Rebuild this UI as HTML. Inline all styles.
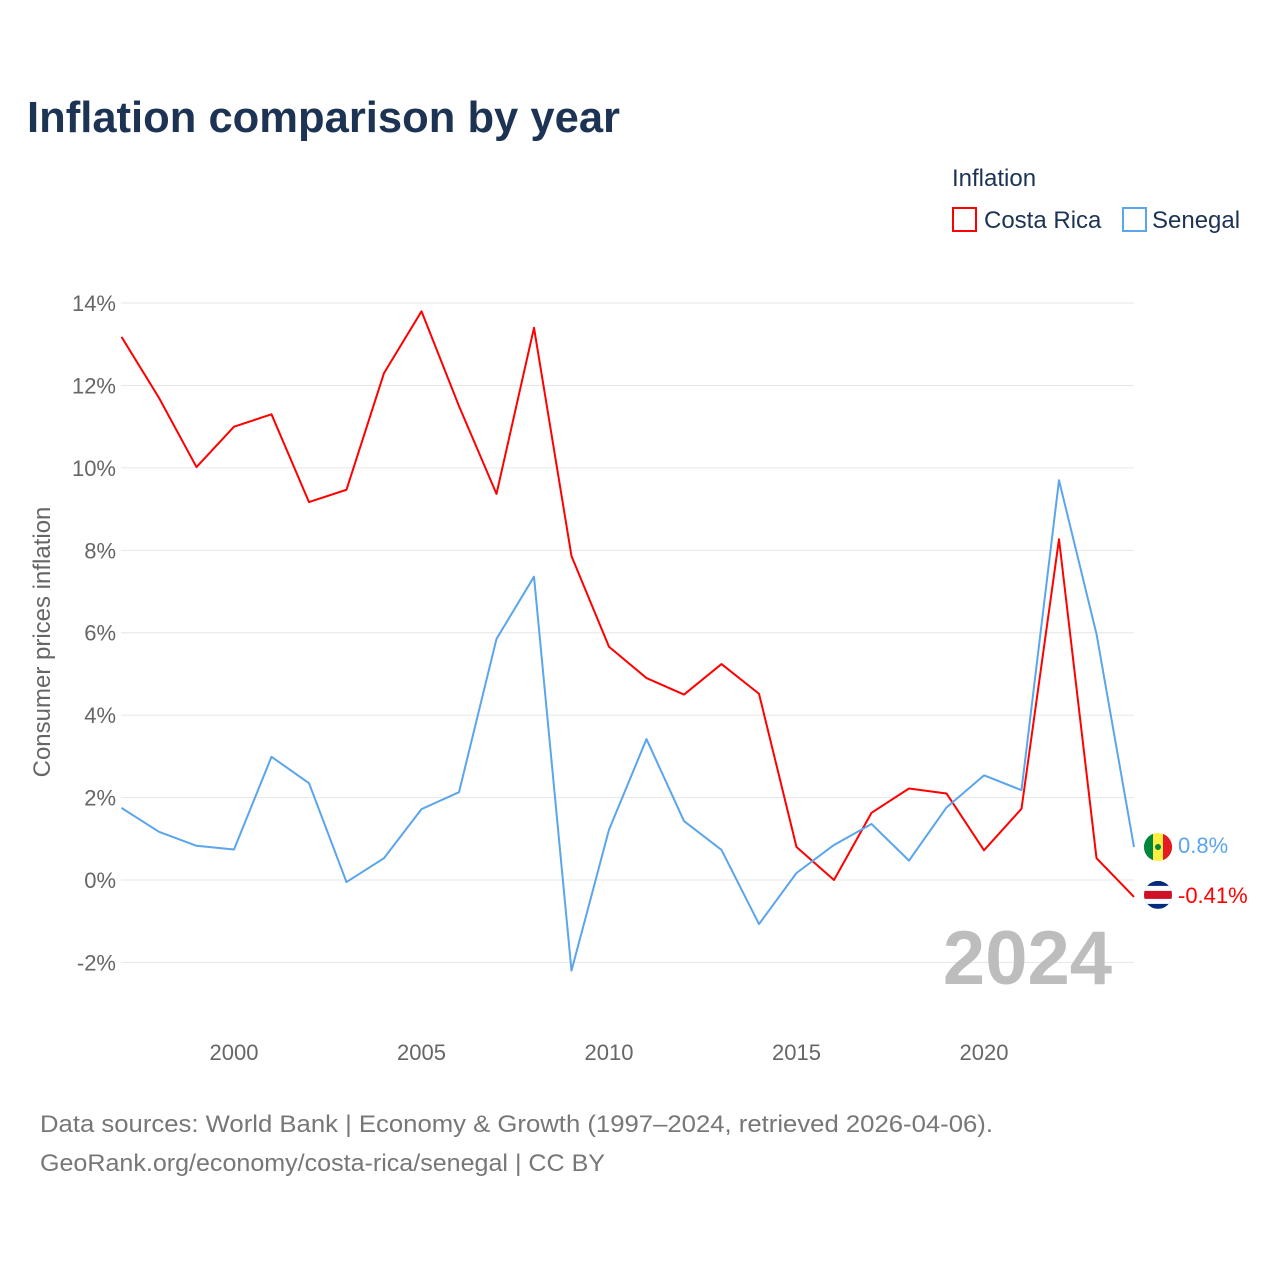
<!DOCTYPE html>
<html><head><meta charset="utf-8">
<style>
body{margin:0;background:#fff;font-family:"Liberation Sans",sans-serif;}
svg text{font-family:"Liberation Sans",sans-serif;}
</style></head>
<body>
<svg id="chart" width="1280" height="1280" xmlns="http://www.w3.org/2000/svg">
<rect width="1280" height="1280" fill="#fff"/>
<text x="27" y="132" font-size="44" font-weight="bold" fill="#1d3354" textLength="593" lengthAdjust="spacingAndGlyphs">Inflation comparison by year</text>
<g>
<text x="952" y="186" font-size="24" fill="#1d3354">Inflation</text>
<g><rect x="953" y="208" width="23" height="23" fill="none" stroke="#ff0000" stroke-width="2"/><text x="984" y="228" font-size="24" fill="#1d3354">Costa Rica</text></g>
<g><rect x="1123" y="208" width="23" height="23" fill="none" stroke="#5aa5eb" stroke-width="2"/><text x="1152" y="228" font-size="24" fill="#1d3354">Senegal</text></g>
</g>
<text transform="translate(50,642) rotate(-90)" text-anchor="middle" font-size="24" fill="#666">Consumer prices inflation</text>
<g id="grid"></g><g id="yticks"></g><g id="xticks"></g>
<text x="1112" y="984" text-anchor="end" font-size="76" font-weight="bold" fill="#bdbdbd">2024</text>
<g id="series"></g>
<text x="40" y="1132" font-size="24" fill="#777" textLength="953" lengthAdjust="spacingAndGlyphs">Data sources: World Bank | Economy &amp; Growth (1997–2024, retrieved 2026-04-06).</text>
<text x="40" y="1171" font-size="24" fill="#777" textLength="565" lengthAdjust="spacingAndGlyphs">GeoRank.org/economy/costa-rica/senegal | CC BY</text>
</svg>
<script>
const years=[1997,1998,1999,2000,2001,2002,2003,2004,2005,2006,2007,2008,2009,2010,2011,2012,2013,2014,2015,2016,2017,2018,2019,2020,2021,2022,2023,2024];
const costaRica=[13.18,11.7,10.02,11.0,11.3,9.17,9.47,12.3,13.8,11.5,9.37,13.4,7.86,5.66,4.9,4.5,5.24,4.52,0.8,0.0,1.63,2.22,2.1,0.72,1.73,8.27,0.53,-0.41];
const senegal=[1.75,1.17,0.83,0.74,2.99,2.35,-0.05,0.53,1.72,2.13,5.85,7.36,-2.2,1.22,3.42,1.43,0.73,-1.07,0.17,0.85,1.36,0.47,1.76,2.54,2.18,9.7,5.97,0.8];
const yTicks=[-2,0,2,4,6,8,10,12,14];
const xTicks=[2000,2005,2010,2015,2020];
const NS="http://www.w3.org/2000/svg";
const x=v=>121.5+(v-1997)*(1134-121.5)/27;
const y=v=>880-v*41.21;
function mk(tag,attrs,parent){const e=document.createElementNS(NS,tag);for(const k in attrs)e.setAttribute(k,attrs[k]);parent.appendChild(e);return e;}
const grid=document.getElementById('grid'),yt=document.getElementById('yticks'),xt=document.getElementById('xticks'),ser=document.getElementById('series');
yTicks.forEach(t=>{
 const l=mk('line',{x1:121,x2:1134,y1:y(t),y2:y(t),stroke:'#e6e6e6','stroke-width':1},grid);
 
 
 const tx=mk('text',{x:116,y:y(t)+8,'text-anchor':'end','font-size':22,fill:'#666'},yt);
 tx.textContent=t+'%';
 
 
});
xTicks.forEach(t=>{
 const tx=mk('text',{x:x(t),y:1060,'text-anchor':'middle','font-size':22,fill:'#666'},xt);
 tx.textContent=t;
 
 
});
function line(vals,color,name){
 const p=mk('path',{d:vals.map((v,i)=>(i?'L':'M')+x(years[i])+','+y(v)).join(''),fill:'none',stroke:color,'stroke-width':2,'stroke-linejoin':'round'},ser);
 
 
}
line(costaRica,'#ff0000','costa-rica-line');
line(senegal,'#5aa5eb','senegal-line');
const sl=senegal[senegal.length-1], cl=costaRica[costaRica.length-1];
const sx=x(2024)+24;
let g=mk('g',{},ser);


mk('circle',{cx:sx,cy:y(sl),r:14,fill:'#fdef42'},g);
mk('path',{d:`M${sx-5},${y(sl)-13.1}A14,14 0 0 0 ${sx-5},${y(sl)+13.1}Z`,fill:'#00853f'},g);
mk('path',{d:`M${sx+5},${y(sl)-13.1}A14,14 0 0 1 ${sx+5},${y(sl)+13.1}Z`,fill:'#e31b23'},g);
mk('circle',{cx:sx,cy:y(sl),r:3,fill:'#00853f'},g);
let t=mk('text',{x:sx+20,y:y(sl)+6,'font-size':22,fill:'#5aa5eb'},ser);
t.textContent=sl+'%';


g=mk('g',{},ser);


const cy=y(cl)-2;
mk('clipPath',{id:'cc'},g);
mk('circle',{cx:sx,cy:cy,r:14},g.lastChild);
const cg=mk('g',{'clip-path':'url(#cc)'},g);
mk('rect',{x:sx-14,y:cy-14,width:28,height:28,fill:'#002b7f'},cg);
mk('rect',{x:sx-14,y:cy-9,width:28,height:18,fill:'#fff'},cg);
mk('rect',{x:sx-14,y:cy-4,width:28,height:8,fill:'#ce1126'},cg);
t=mk('text',{x:sx+20,y:cy+8,'font-size':22,fill:'#ff0000'},ser);
t.textContent=cl+'%';


</script>
</body></html>
